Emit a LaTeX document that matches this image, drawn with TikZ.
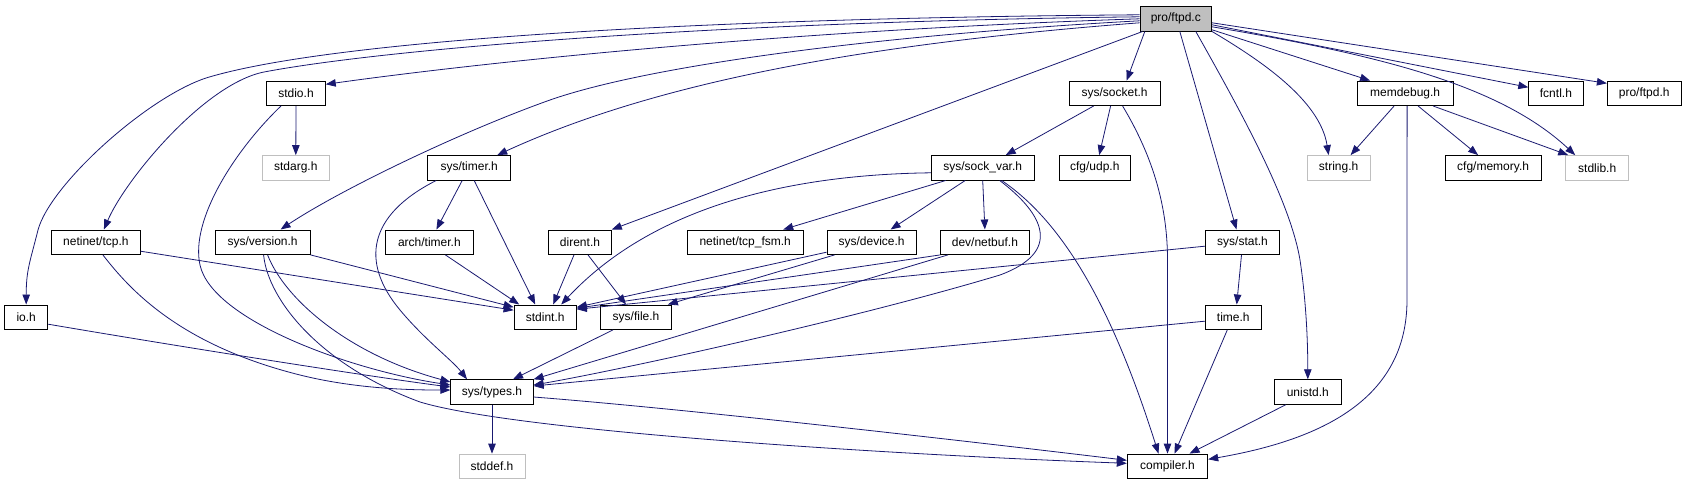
\documentclass[tikz,border=0pt]{standalone}
\usepackage{fontspec}
\setmainfont{Liberation Sans}
\usetikzlibrary{arrows.meta}
\definecolor{edgeblue}{HTML}{191970}
\definecolor{graybd}{HTML}{BFBFBF}
\begin{document}
\begin{tikzpicture}[x=1pt,y=-1pt,
  box/.style={draw=black,line width=0.9pt,fill=white,minimum height=24.5pt,inner sep=0pt,font=\fontsize{12}{14}\selectfont},
  rootbox/.style={box,fill=graybd},
  extbox/.style={box,draw=graybd},
  edge/.style={draw=edgeblue,line width=0.8pt,-{Triangle[length=10pt,width=7.5pt]}}]
\useasboundingbox (0,0) rectangle (1687,485);
% nodes
\node[rootbox,minimum width=71.6pt] (root) at (1175.8,18.8) {pro/ftpd.c};
\node[box,minimum width=58.6pt] (stdio) at (296,93.3) {stdio.h};
\node[box,minimum width=90.7pt] (socket) at (1114.6,93.3) {sys/socket.h};
\node[box,minimum width=95.8pt] (memdebug) at (1405.1,93.3) {memdebug.h};
\node[box,minimum width=54.3pt] (fcntl) at (1555.9,93.3) {fcntl.h};
\node[box,minimum width=73.7pt] (ftpdh) at (1644.2,93.3) {pro/ftpd.h};
\node[extbox,minimum width=66.6pt] (stdarg) at (295.8,167.8) {stdarg.h};
\node[box,minimum width=82.6pt] (timer) at (469.2,167.8) {sys/timer.h};
\node[box,minimum width=102.9pt] (sockvar) at (982.7,167.8) {sys/sock\_var.h};
\node[box,minimum width=71.6pt] (udp) at (1094.8,167.8) {cfg/udp.h};
\node[extbox,minimum width=63pt] (string) at (1338.6,167.8) {string.h};
\node[box,minimum width=95.8pt] (memory) at (1493.1,167.8) {cfg/memory.h};
\node[extbox,minimum width=63pt] (stdlib) at (1597.2,167.8) {stdlib.h};
\node[box,minimum width=88.4pt] (tcp) at (95.9,242.2) {netinet/tcp.h};
\node[box,minimum width=95pt] (version) at (262.6,242.2) {sys/version.h};
\node[box,minimum width=87.2pt] (archtimer) at (429.4,242.2) {arch/timer.h};
\node[box,minimum width=62.7pt] (dirent) at (580,242.2) {dirent.h};
\node[box,minimum width=116.3pt] (tcpfsm) at (745.2,242.2) {netinet/tcp\_fsm.h};
\node[box,minimum width=89.2pt] (device) at (871.6,242.2) {sys/device.h};
\node[box,minimum width=88.4pt] (netbuf) at (984.9,242.2) {dev/netbuf.h};
\node[box,minimum width=74.5pt] (stat) at (1242.5,242.2) {sys/stat.h};
\node[box,minimum width=43.2pt] (io) at (26.2,317.2) {io.h};
\node[box,minimum width=62.3pt] (stdint) at (545.2,317.2) {stdint.h};
\node[box,minimum width=70.8pt] (file) at (636,317.2) {sys/file.h};
\node[box,minimum width=56.2pt] (time) at (1233.3,317.2) {time.h};
\node[box,minimum width=82.3pt] (types) at (492,392) {sys/types.h};
\node[box,minimum width=66.6pt] (unistd) at (1307.8,392) {unistd.h};
\node[extbox,minimum width=66.1pt] (stddef) at (492,466.3) {stddef.h};
\node[box,minimum width=80.5pt] (compiler) at (1167.5,466.3) {compiler.h};
% edges from root
\draw[edge] ([yshift=4pt]root.west) .. controls (700,18) and (330,40) .. (206,78) .. controls (146,98) and (50,185) .. (38,230) .. controls (30,262) and (26.2,270) .. (io.north);
\draw[edge] ([yshift=2pt]root.west) .. controls (700,22) and (380,50) .. (264,72) .. controls (204,84) and (125,180) .. ([xshift=8pt]tcp.north);
\draw[edge] (root.west) .. controls (800,30) and (500,60) .. ([yshift=9pt]stdio.east);
\draw[edge] ([yshift=-2pt]root.west) .. controls (880,35) and (650,65) .. (550,100) .. controls (460,132) and (340,190) .. ([xshift=18pt]version.north);
\draw[edge] ([yshift=-4pt]root.west) .. controls (850,45) and (650,85) .. ([xshift=28pt]timer.north);
\draw[edge] ([xshift=3pt]root.south west) -- (dirent.north east);
\draw[edge] ([xshift=-31pt]root.south) -- ([xshift=12pt]socket.north);
\draw[edge] ([xshift=4pt]root.south) -- ([xshift=-6pt]stat.north);
\draw[edge] ([xshift=20pt]root.south) .. controls (1240,110) and (1290,200) .. (1300,260) .. controls (1306,300) and (1307.8,340) .. (unistd.north);
\draw[edge] (root.south east) .. controls (1260,60) and (1320,100) .. ([xshift=-10pt]string.north);
\draw[edge] ([yshift=-11pt]root.east) -- ([xshift=-35pt]memdebug.north);
\draw[edge] ([yshift=-8pt]root.east) .. controls (1380,55) and (1500,85) .. ([xshift=-22pt]stdlib.north);
\draw[edge] ([yshift=-6pt]root.east) -- ([yshift=6pt]fcntl.west);
\draw[edge] ([yshift=-4pt]root.east) -- ([yshift=10pt]ftpdh.west);
% stdio
\draw[edge] (stdio.south) -- (stdarg.north);
\draw[edge] ([xshift=-15pt]stdio.south) .. controls (235,150) and (190,220) .. (200,265) .. controls (212,320) and (350,370) .. ([yshift=7pt]types.west);
% tcp
\draw[edge] ([yshift=-9pt]tcp.east) -- ([yshift=7pt]stdint.west);
\draw[edge] ([xshift=7pt]tcp.south) .. controls (130,290) and (180,345) .. (300,375) .. controls (360,390) and (420,390) .. ([yshift=2pt]types.west);
% io
\draw[edge] ([yshift=-7pt]io.east) .. controls (200,350) and (380,378) .. ([yshift=5pt]types.west);
% version
\draw[edge] (version.south east) -- ([yshift=10pt]stdint.west);
\draw[edge] ([xshift=5pt]version.south) .. controls (285,300) and (350,355) .. ([yshift=10pt]types.west);
\draw[edge] ([xshift=1pt]version.south) .. controls (268,300) and (320,365) .. (420,402) .. controls (520,432) and (900,455) .. ([yshift=3pt]compiler.west);
% timer
\draw[edge] ([xshift=-7pt]timer.south) -- ([xshift=7pt]archtimer.north);
\draw[edge] ([xshift=5pt]timer.south) -- ([xshift=-10pt]stdint.north);
\draw[edge] ([xshift=-33pt]timer.south) .. controls (368,215) and (360,262) .. (400,310) .. controls (425,340) and (452,360) .. ([xshift=-25pt]types.north);
\draw[edge] ([xshift=16pt]archtimer.south) -- ([xshift=-26pt]stdint.north);
% dirent
\draw[edge] ([xshift=-6pt]dirent.south) -- ([xshift=8pt]stdint.north);
\draw[edge] ([xshift=8pt]dirent.south) -- ([xshift=-10pt]file.north);
% sock_var
\draw[edge] ([yshift=-5pt]sockvar.west) .. controls (760,175) and (640,220) .. ([xshift=16pt]stdint.north);
\draw[edge] ([xshift=-37pt]sockvar.south) -- ([xshift=38pt]tcpfsm.north);
\draw[edge] ([xshift=-17.5pt]sockvar.south) -- ([xshift=19pt]device.north);
\draw[edge] (sockvar.south) -- (netbuf.north);
\draw[edge] ([xshift=17pt]sockvar.south) .. controls (1045,215) and (1062,252) .. (1000,275) .. controls (850,320) and (620,370) .. ([yshift=7pt]types.east);
\draw[edge] ([xshift=19pt]sockvar.south) .. controls (1060,220) and (1110,300) .. ([xshift=-9pt]compiler.north);
% socket
\draw[edge] ([xshift=-21pt]socket.south) -- ([xshift=23pt]sockvar.north);
\draw[edge] ([xshift=-4pt]socket.south) -- ([xshift=4.4pt]udp.north);
\draw[edge] ([xshift=8pt]socket.south) .. controls (1155,160) and (1167.5,210) .. (1167.5,260) -- (compiler.north);
% device, netbuf
\draw[edge] ([yshift=-10pt]device.west) -- ([yshift=10pt]stdint.east);
\draw[edge] ([xshift=-37pt]device.south) -- ([xshift=-4pt]file.north east);
\draw[edge] (netbuf.south west) -- ([yshift=9pt]stdint.east);
\draw[edge] ([xshift=-37pt]netbuf.south) -- (types.north east);
% stat, time, unistd
\draw[edge] ([yshift=-4pt]stat.west) -- ([yshift=8pt]stdint.east);
\draw[edge] ([xshift=-1pt]stat.south) -- ([xshift=3.4pt]time.north);
\draw[edge] ([yshift=-4pt]time.west) -- ([yshift=6pt]types.east);
\draw[edge] ([xshift=-6pt]time.south) -- ([xshift=7pt]compiler.north);
\draw[edge] ([xshift=-22pt]unistd.south) -- ([xshift=22pt]compiler.north);
% memdebug
\draw[edge] ([xshift=-11pt]memdebug.south) -- ([xshift=12pt]string.north);
\draw[edge] ([xshift=13pt]memdebug.south) -- ([xshift=-15pt]memory.north);
\draw[edge] ([xshift=28pt]memdebug.south) -- ([xshift=-29pt]stdlib.north);
\draw[edge] ([xshift=2pt]memdebug.south) -- (1407,300) .. controls (1407,400) and (1320,440) .. ([yshift=7pt]compiler.east);
% types, file
\draw[edge] (types.south) -- (stddef.north);
\draw[edge] ([yshift=-5pt]types.east) .. controls (700,410) and (1000,445) .. ([yshift=6pt]compiler.west);
\draw[edge] ([xshift=-23pt]file.south) -- ([xshift=21pt]types.north);
\end{tikzpicture}
\end{document}
